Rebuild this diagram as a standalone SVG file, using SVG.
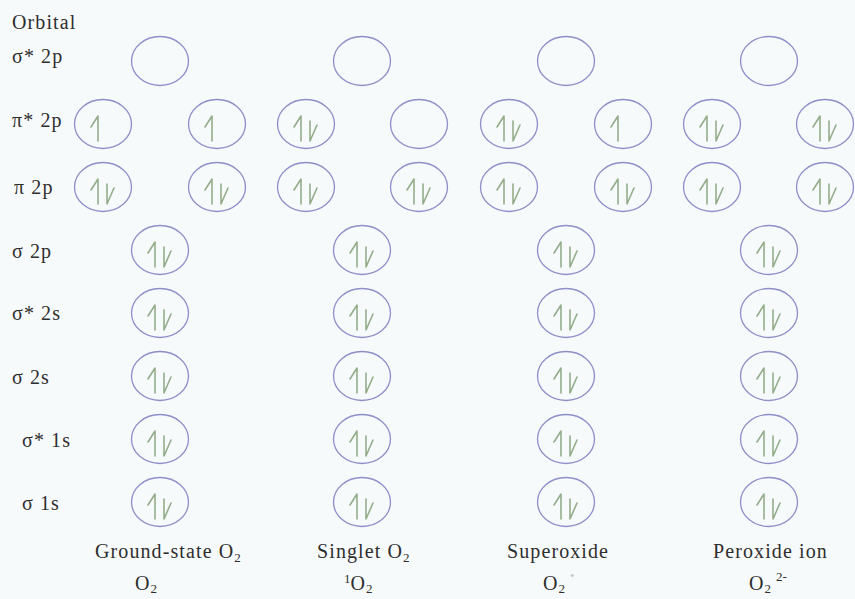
<svg xmlns="http://www.w3.org/2000/svg" xmlns:xlink="http://www.w3.org/1999/xlink" width="855" height="599" viewBox="0 0 855 599">
<style>
.orb{fill:none;stroke:#8e8ec8;stroke-width:1.3}
.e{fill:none;stroke:#93ad8a;stroke-width:1.6;stroke-linecap:round;stroke-linejoin:round}
.t{font-family:"Liberation Serif","Times New Roman",serif;font-size:20px;letter-spacing:1.1px;fill:#2e2e2e}
.sub{font-size:13px;letter-spacing:0}
</style>
<defs>
<g id="o0"><ellipse class="orb" cx="0" cy="0" rx="28.5" ry="24.5"/></g>
<g id="o1"><ellipse class="orb" cx="0" cy="0" rx="28.5" ry="24.5"/><path class="e" d="M-5,17 V-8 L-12,3"/></g>
<g id="o2"><ellipse class="orb" cx="0" cy="0" rx="28.5" ry="24.5"/><path class="e" d="M-5,17 V-8 L-12,3"/><path class="e" d="M4,-3 V17 L11,1"/></g>
</defs>
<rect width="855" height="599" fill="#f7fafb"/>
<g id="labels">
<text class="t" x="12" y="29">Orbital</text>
<text class="t" x="12" y="63">σ* 2p</text>
<text class="t" x="12" y="127">π* 2p</text>
<text class="t" x="14" y="194">π 2p</text>
<text class="t" x="12" y="258">σ 2p</text>
<text class="t" x="12" y="320">σ* 2s</text>
<text class="t" x="12" y="384">σ 2s</text>
<text class="t" x="22" y="447">σ* 1s</text>
<text class="t" x="22" y="510">σ 1s</text>
</g>
<g id="col-ground">
<use xlink:href="#o0" x="160" y="61"/>
<use xlink:href="#o1" x="103" y="124"/>
<use xlink:href="#o1" x="217" y="124"/>
<use xlink:href="#o2" x="103" y="187"/>
<use xlink:href="#o2" x="217" y="187"/>
<use xlink:href="#o2" x="160" y="250"/>
<use xlink:href="#o2" x="160" y="313"/>
<use xlink:href="#o2" x="160" y="376"/>
<use xlink:href="#o2" x="160" y="439"/>
<use xlink:href="#o2" x="160" y="502"/>
<text class="t" x="95" y="558">Ground-state O<tspan class="sub" dy="4">2</tspan></text>
<text class="t" x="135" y="590">O<tspan class="sub" dy="3">2</tspan></text>
</g>
<g id="col-singlet">
<use xlink:href="#o0" x="362" y="61"/>
<use xlink:href="#o2" x="306" y="124"/>
<use xlink:href="#o0" x="419" y="124"/>
<use xlink:href="#o2" x="306" y="187"/>
<use xlink:href="#o2" x="419" y="187"/>
<use xlink:href="#o2" x="362" y="250"/>
<use xlink:href="#o2" x="362" y="313"/>
<use xlink:href="#o2" x="362" y="376"/>
<use xlink:href="#o2" x="362" y="439"/>
<use xlink:href="#o2" x="362" y="502"/>
<text class="t" x="317" y="558">Singlet O<tspan class="sub" dy="4">2</tspan></text>
<text class="t" x="344" y="590"><tspan class="sub" dy="-7">1</tspan><tspan dy="7">O</tspan><tspan class="sub" dy="3">2</tspan></text>
</g>
<g id="col-superoxide">
<use xlink:href="#o0" x="566" y="61"/>
<use xlink:href="#o2" x="509" y="124"/>
<use xlink:href="#o1" x="623" y="124"/>
<use xlink:href="#o2" x="509" y="187"/>
<use xlink:href="#o2" x="623" y="187"/>
<use xlink:href="#o2" x="566" y="250"/>
<use xlink:href="#o2" x="566" y="313"/>
<use xlink:href="#o2" x="566" y="376"/>
<use xlink:href="#o2" x="566" y="439"/>
<use xlink:href="#o2" x="566" y="502"/>
<text class="t" x="507" y="558">Superoxide</text>
<text class="t" x="543" y="590">O<tspan class="sub" dy="3">2</tspan><tspan class="sub" dx="5" dy="-13" fill="#c8c8c8">•</tspan></text>
</g>
<g id="col-peroxide">
<use xlink:href="#o0" x="769" y="61"/>
<use xlink:href="#o2" x="712" y="124"/>
<use xlink:href="#o2" x="825" y="124"/>
<use xlink:href="#o2" x="712" y="187"/>
<use xlink:href="#o2" x="825" y="187"/>
<use xlink:href="#o2" x="769" y="250"/>
<use xlink:href="#o2" x="769" y="313"/>
<use xlink:href="#o2" x="769" y="376"/>
<use xlink:href="#o2" x="769" y="439"/>
<use xlink:href="#o2" x="769" y="502"/>
<text class="t" x="713" y="558">Peroxide ion</text>
<text class="t" x="749" y="590">O<tspan class="sub" dy="3">2</tspan><tspan class="sub" dx="5" dy="-12">2-</tspan></text>
</g>
<g id="connectors"/>
</svg>
